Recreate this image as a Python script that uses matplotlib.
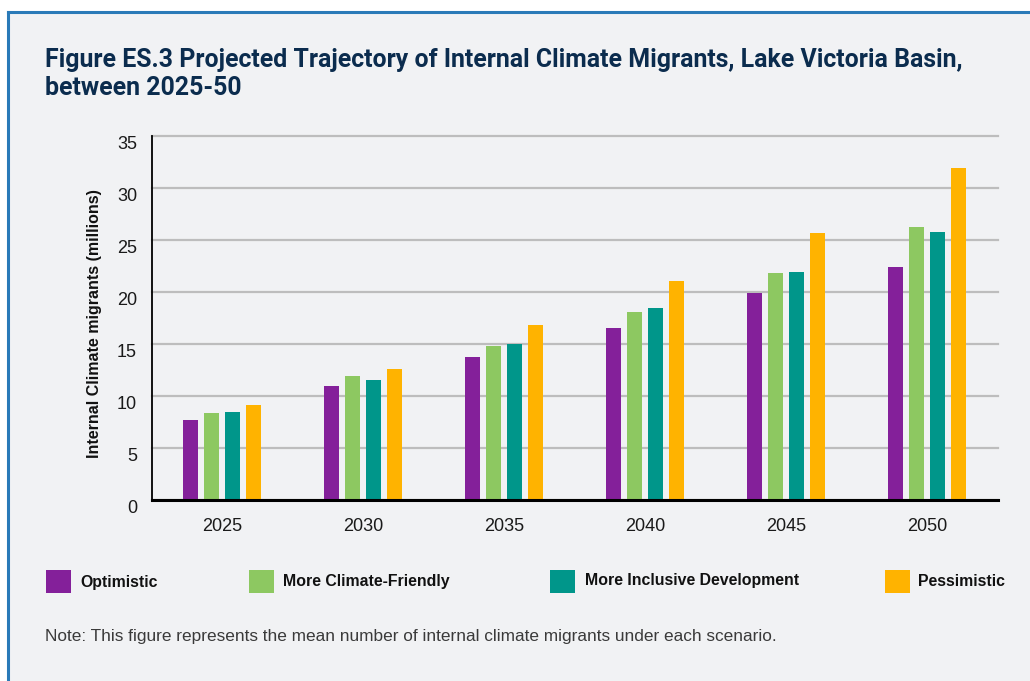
import matplotlib
matplotlib.use("Agg")
import matplotlib.pyplot as plt
from matplotlib.patches import Rectangle
from matplotlib.lines import Line2D
import numpy as np

years = ["2025", "2030", "2035", "2040", "2045", "2050"]
series_names = ["Optimistic", "More Climate-Friendly", "More Inclusive Development", "Pessimistic"]
optimistic = [7.7, 11.0, 13.8, 16.6, 19.9, 22.4]
climate_friendly = [8.4, 11.9, 14.8, 18.1, 21.8, 26.3]
inclusive = [8.5, 11.6, 15.0, 18.5, 21.9, 25.8]
pessimistic = [9.2, 12.6, 16.8, 21.1, 25.7, 31.9]
series_values = [optimistic, climate_friendly, inclusive, pessimistic]
colors = ["#84209A", "#8DC861", "#00968A", "#FFB300"]
yticks = [0, 5, 10, 15, 20, 25, 30, 35]

W, H = 1030, 681
fig = plt.figure(figsize=(W / 100, H / 100), dpi=100)
fig.patch.set_facecolor("white")

def fx(px):
    return px / W

def fy(py):
    return 1 - py / H

bg = "#F1F2F4"
fig.patches.append(Rectangle((fx(8), 0), 1 - fx(8), fy(12), transform=fig.transFigure,
                             facecolor=bg, edgecolor="none", zorder=-10))
fig.lines.append(Line2D([fx(8), 1], [fy(12), fy(12)], transform=fig.transFigure,
                        color="#2A7AB8", lw=2.2, zorder=-5))
fig.lines.append(Line2D([fx(8), fx(8)], [0, fy(12)], transform=fig.transFigure,
                        color="#2A7AB8", lw=2.2, zorder=-5))

title_font = dict(fontsize=17.9, fontweight="bold", family=["Roboto", "DejaVu Sans"], color="#0B2C4E",
                  ha="left", va="baseline")
fig.text(fx(45), fy(67), "Figure ES.3 Projected Trajectory of Internal Climate Migrants, Lake Victoria Basin,",
         **title_font)
fig.text(fx(45), fy(95), "between 2025-50", **title_font)

ax = fig.add_axes([fx(151.7), fy(500.3), fx(997.7) - fx(151.7), fy(136) - fy(500.3)])
ax.set_facecolor("none")
ax.set_zorder(2)

x = np.arange(len(years))
width = 0.106
step = 0.149
for i, (vals, c, name) in enumerate(zip(series_values, colors, series_names)):
    ax.bar(x + (i - 1.5) * step, vals, width=width, color=c, label=name, zorder=2)

ax.set_xlim(-0.5, 5.5)
ax.set_ylim(0, 35)
ax.set_yticks(yticks)
ax.set_xticks(x)
ax.set_xticklabels(years)
ax.yaxis.grid(True, color="#BDBDBD", lw=1.6, zorder=1)
for gl in ax.get_ygridlines():
    gl.set_clip_on(False)
ax.set_axisbelow(True)
for s in ["top", "right"]:
    ax.spines[s].set_visible(False)
ax.spines["left"].set_linewidth(1.3)
ax.spines["left"].set_color("black")
ax.spines["bottom"].set_linewidth(2.2)
ax.spines["bottom"].set_color("black")
ax.spines["bottom"].set_zorder(3)
ax.tick_params(axis="both", length=0, labelsize=13, labelcolor="#1a1a1a")
ax.tick_params(axis="y", pad=10.5)
ax.tick_params(axis="x", pad=13)
for lab in ax.get_yticklabels():
    lab.set_family(["Liberation Sans", "DejaVu Sans"])
    lab.set_va("top")
for lab in ax.get_xticklabels():
    lab.set_family(["Liberation Sans", "DejaVu Sans"])

fig.text(fx(95), fy(324), "Internal Climate migrants (millions)", rotation=90,
         ha="center", va="center", fontsize=11.5, fontweight="bold",
         family=["Liberation Sans", "DejaVu Sans"], color="#111111")

# legend
leg_sq_x = [46, 249, 550, 885]
leg_txt_x = [80, 283, 585, 918]
leg_txt_y = [582, 581.5, 580, 581.5]
for sx, tx, ty, c, name in zip(leg_sq_x, leg_txt_x, leg_txt_y, colors, series_names):
    fig.patches.append(Rectangle((fx(sx), fy(593)), fx(25), 23 / H, transform=fig.transFigure,
                                 facecolor=c, edgecolor="none", zorder=2))
    fig.text(fx(tx), fy(ty), name, ha="left", va="center", fontsize=11.4, fontweight="bold",
             family=["Liberation Sans", "DejaVu Sans"], color="#111111")

fig.text(fx(45), fy(637), "Note: This figure represents the mean number of internal climate migrants under each scenario.",
         ha="left", va="center", fontsize=12.45, family=["Liberation Sans", "DejaVu Sans"], color="#3A3A3A")

fig.savefig("out.png", dpi=100, facecolor=fig.get_facecolor())
